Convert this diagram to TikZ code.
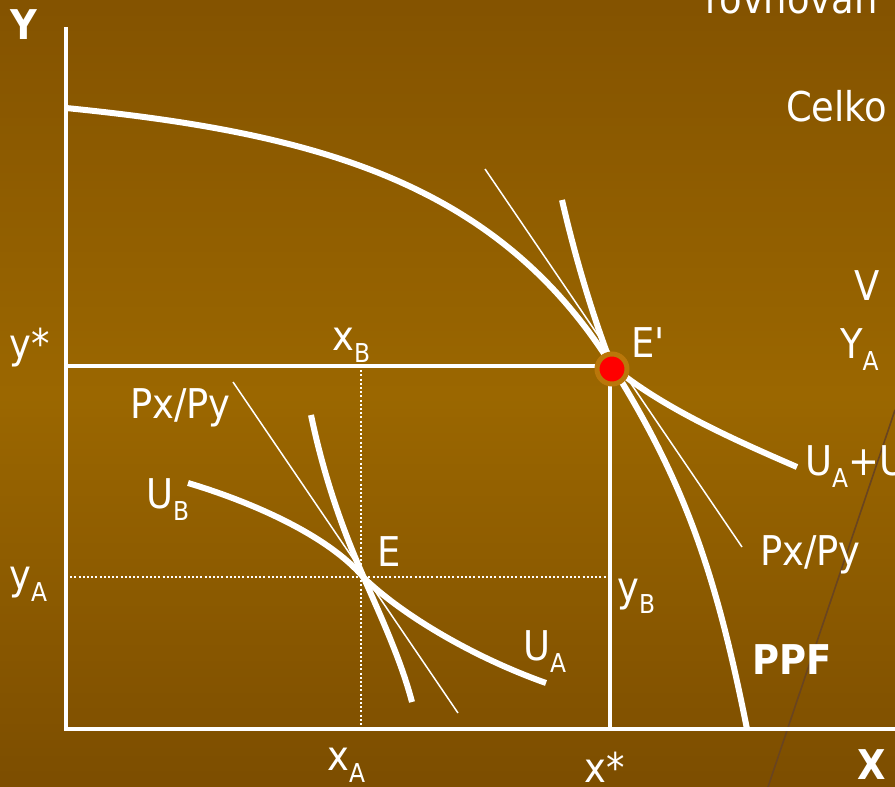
\documentclass[tikz,border=0pt]{standalone}
\usepackage{fontspec}
\setmainfont{DejaVu Sans Condensed}[Ligatures=TeXOff]
\definecolor{bgtop}{RGB}{132,83,0}
\definecolor{bgmid}{RGB}{155,103,0}
\definecolor{bgbot}{RGB}{124,77,0}
\definecolor{ringc}{RGB}{186,119,10}
\definecolor{darkline}{RGB}{105,68,32}
\newcommand\sbx[1]{\raisebox{-12pt}{\fontsize{26}{26}\selectfont #1}}
\begin{document}
\begin{tikzpicture}[x=1pt,y=-1pt,
  thickcurve/.style={white, line width=6pt},
  axisline/.style={white, line width=4pt},
  refline/.style={white, line width=3.5pt},
  thinline/.style={white, line width=1.5pt},
  dotline/.style={white, line width=2pt, dash pattern=on 2pt off 2.2pt},
  lbl/.style={text=white, inner sep=0pt, anchor=base west, font=\fontsize{41}{41}\selectfont},
  blbl/.style={text=white, inner sep=0pt, anchor=base west, font=\fontsize{41}{41}\selectfont\bfseries}]
\useasboundingbox (0,0) rectangle (895,787);
\clip (0,0) rectangle (895,787);

% background gradient (strips)
\foreach \i in {0,...,99}{
  \pgfmathsetmacro\ya{\i*7.87}
  \pgfmathsetmacro\yb{\ya+8.3}
  \ifnum\i<50
    \pgfmathtruncatemacro\pp{\i*2}
    \colorlet{stripc}{bgmid!\pp!bgtop}
  \else
    \pgfmathtruncatemacro\pp{(\i-50)*2}
    \colorlet{stripc}{bgbot!\pp!bgmid}
  \fi
  \fill[stripc] (0,\ya) rectangle (895,\yb);
}

% coordinates
\coordinate (O) at (66,729);
\coordinate (Ytop) at (66,27);
\coordinate (Xend) at (895,729);
\coordinate (ystar) at (66,366);
\coordinate (xstar) at (610,729);
\coordinate (xB) at (361,366);
\coordinate (xA) at (361,729);
\coordinate (yA) at (66,577);
\coordinate (yB) at (610,577);
\coordinate (dA) at (895,410);
\coordinate (dB) at (768,787);
\coordinate (PPFtop) at (66,108);
\coordinate (Epc) at (612,366);
\coordinate (PPFbot) at (747,729);
\coordinate (Ubig1) at (562,200);
\coordinate (Ubig2) at (797,467);
\coordinate (E) at (364,578);

% faint dark line
\draw[darkline, line width=1.6pt] (dA) -- (dB);

% dotted lines
\draw[dotline] (xB) -- (xA);
\draw[dotline] (yA) -- (yB);

% y* and x* lines
\draw[refline] (ystar) -- (ystar -| xstar) -- (xstar);

% axes
\draw[axisline] (Ytop) -- (O) -- (Xend);

% PPF
\draw[thickcurve] (PPFtop) .. controls (316,133) and (497,182) .. (Epc)
  .. controls (687,486) and (717,579) .. (PPFbot);

% big indifference curve
\draw[thickcurve] (Ubig1) .. controls (577,265) and (595,322) .. (Epc)
  .. controls (662,408) and (737,441) .. (Ubig2);

% tangent price line at E'
\draw[thinline] (485,169) -- (742,547);

% small diagram
\draw[thinline] (233,382) -- (458,713);
\draw[thickcurve] (188,483) .. controls (255,503) and (330,537) .. (E)
  .. controls (400,613) and (470,656) .. (546,683);
\draw[thickcurve] (311,415) .. controls (325,482) and (345,535) .. (E)
  .. controls (381,617) and (401,660) .. (412,702);

% E' point
\node[circle, draw=ringc, line width=5pt, fill=red, minimum size=30pt, inner sep=0pt] (Ep) at (612,369) {};

% labels
\node[blbl] (lY) at (10,39) {Y};
\node[blbl] (lX) at (857,779) {X};
\node[blbl] (lPPF) at (752,674) {PPF};
\node[lbl] (lEp) at (631,357) {E'};
\node[lbl] (lxB) at (332,350) {x\sbx{B}};
\node[lbl] (lys) at (9,358) {y*};
\node[lbl] (lyA) at (9,589) {y\sbx{A}};
\node[lbl] (lyB) at (617,601) {y\sbx{B}};
\node[lbl] (lxA) at (327,770) {x\sbx{A}};
\node[lbl] (lxs) at (584,782) {x*};
\node[lbl] (lP2) at (760,565) {Px/Py};
\node[lbl] (lUAB) at (805,475) {U\sbx{A}+U};
\node[lbl] (lV) at (854,300) {V};
\node[lbl] (lYA) at (840,358) {Y\sbx{A}};
\node[lbl] (lCel) at (786,121) {Celko};
\node[lbl] (lrov) at (705,13) {rovnováh};
\node[lbl] (lP1) at (130,418) {Px/Py};
\node[lbl] (lUB) at (146,508) {U\sbx{B}};
\node[lbl] (lE) at (377,566) {E};
\node[lbl] (lUA) at (523,660) {U\sbx{A}};
\end{tikzpicture}
\end{document}
